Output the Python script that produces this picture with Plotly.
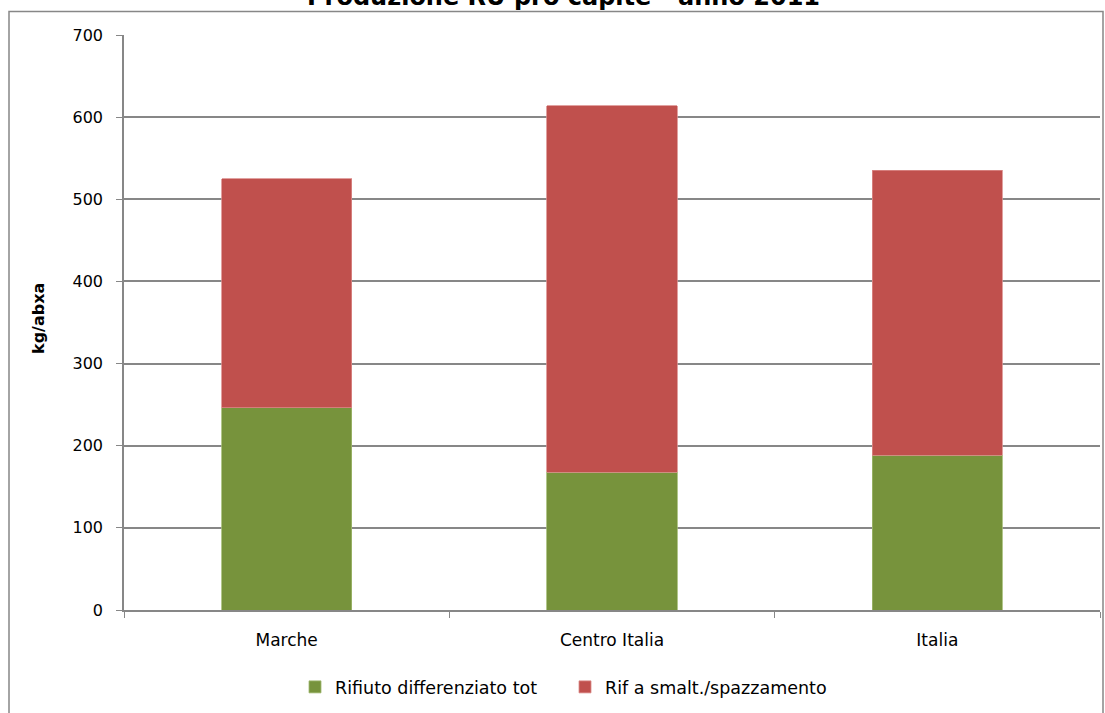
import plotly.graph_objects as go

# Produzione RU pro capite (kg per abitante) - anno 2011
categorie = ["Marche", "Centro Italia", "Italia"]
differenziato = [246.5, 167.8, 188.7]
smaltimento = [278.5, 446.0, 346.5]
y_ticks = [0, 100, 200, 300, 400, 500, 600, 700]

VERDE = "#77933C"
ROSSO = "#C0504D"
GRIGIO = "#878787"
FONT = "DejaVu Sans"

fig = go.Figure()
fig.add_trace(go.Bar(
    name="Rifiuto differenziato tot", x=categorie, y=differenziato,
    marker=dict(color=VERDE, line=dict(color="#9fb86e", width=0.8)),
    width=0.4,
))
fig.add_trace(go.Bar(
    name="Rif a smalt./spazzamento", x=categorie, y=smaltimento,
    marker=dict(color=ROSSO, line=dict(color="#d98a88", width=0.8)),
    width=0.4,
))

W, H = 1105, 713
L, R, T, B = 124, 5, 35, 103

def px_x(p):
    return (p - L) / (W - L - R)

def px_y(p):
    return (H - B - p) / (H - T - B)

fig.update_layout(
    width=W, height=H,
    barmode="stack",
    paper_bgcolor="white", plot_bgcolor="white",
    margin=dict(l=L, r=R, t=T, b=B, pad=0),
    font=dict(family=FONT, size=16, color="#000000"),
    showlegend=True,
    legend=dict(
        orientation="h", x=px_x(565), xanchor="center",
        y=px_y(687), yanchor="middle",
        font=dict(family=FONT, size=17.5),
        traceorder="normal", itemwidth=30, entrywidth=225,
    ),
    xaxis=dict(
        type="category", showgrid=False,
        showline=True, linecolor=GRIGIO, linewidth=1.5,
        ticks="outside", tickson="boundaries", ticklen=6, tickcolor=GRIGIO,
        tickfont=dict(family=FONT, size=17),
        ticklabelstandoff=14,
        fixedrange=True,
    ),
    yaxis=dict(
        range=[0, 700], tickvals=y_ticks,
        showgrid=True, gridcolor=GRIGIO, gridwidth=1.5,
        showline=True, linecolor=GRIGIO, linewidth=1.5,
        ticks="outside", ticklen=6, tickcolor=GRIGIO,
        tickfont=dict(family=FONT, size=16),
        ticklabelstandoff=10,
        zeroline=False, fixedrange=True,
    ),
    shapes=[dict(
        type="rect", xref="paper", yref="paper",
        x0=px_x(9), x1=px_x(1103), y0=px_y(740), y1=px_y(11.5),
        line=dict(color=GRIGIO, width=1.5), fillcolor="rgba(0,0,0,0)",
        layer="below",
    )],
    annotations=[
        dict(
            text="<b>Produzione RU pro capite - anno 2011</b>",
            xref="paper", yref="paper", x=px_x(563), y=px_y(13),
            xanchor="center", yanchor="bottom", showarrow=False,
            font=dict(family=FONT, size=24),
        ),
        dict(
            text="<b>kg/abxa</b>",
            xref="paper", yref="paper", x=px_x(39), y=px_y(319),
            xanchor="center", yanchor="middle", textangle=-90, showarrow=False,
            font=dict(family=FONT, size=16),
        ),
    ],
)

fig.write_html("out.html")
